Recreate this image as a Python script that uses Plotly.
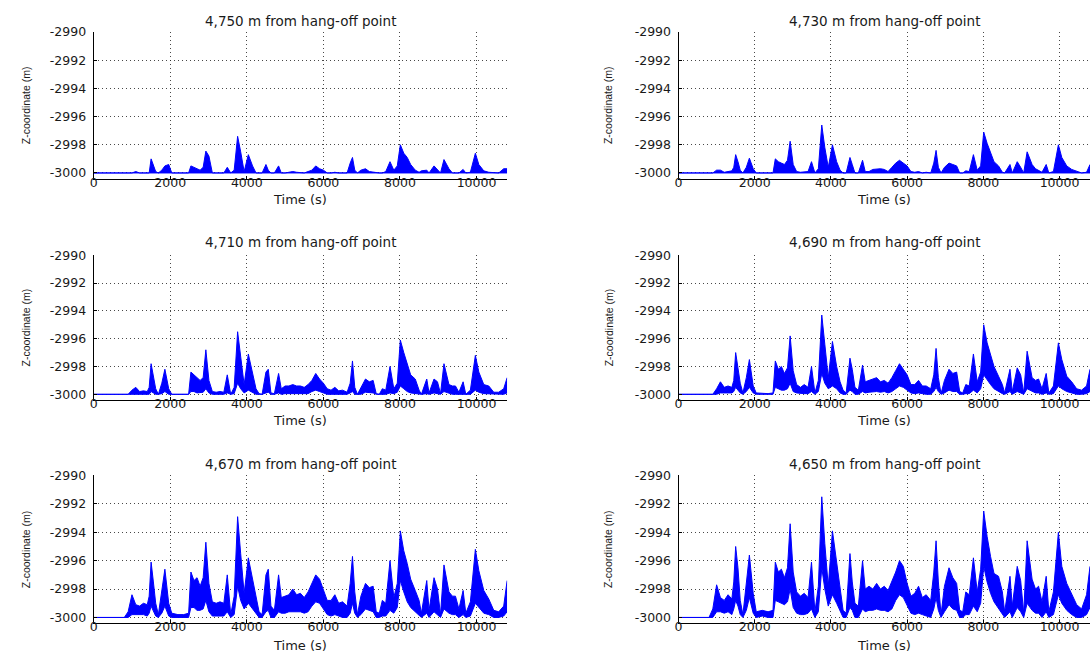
import plotly.graph_objects as go

# ---------------- data ----------------
time_s = [0, 800, 900, 1000, 1100, 1200, 1300, 1400, 1450, 1500,
          1560, 1620, 1690, 1780, 1860, 1960, 2040, 2200, 2350, 2480,
          2540, 2620, 2700, 2780, 2860, 2930, 3010, 3100, 3200, 3300,
          3400, 3490, 3580, 3670, 3760, 3840, 3930, 4040, 4150, 4240,
          4320, 4400, 4500, 4560, 4630, 4720, 4830, 4900, 5000, 5100,
          5200, 5300, 5400, 5500, 5600, 5700, 5800, 5900, 6000, 6100,
          6200, 6300, 6400, 6500, 6620, 6700, 6760, 6820, 6890, 6980,
          7100, 7200, 7300, 7380, 7460, 7540, 7630, 7740, 7840, 7930,
          8010, 8100, 8190, 8280, 8400, 8500, 8560, 8700, 8760, 8890,
          8980, 9060, 9150, 9280, 9370, 9450, 9540, 9650, 9720, 9840,
          9970, 10060, 10190, 10320, 10450, 10580, 10710, 10800]

seabed_z = -3000.0
time_span = [0, 10800]

# 4,750 m (upper envelope; lower envelope is the seabed)
z4750_up = [-3000, -3000, -3000, -3000, -2999.9, -3000, -3000, -3000, -3000, -2999.0,
            -2999.5, -2999.9, -3000, -2999.8, -2999.5, -2999.4, -3000, -3000, -3000, -3000,
            -2999.5, -2999.6, -2999.7, -2999.8, -2999.6, -2998.45, -2998.8, -3000, -3000, -3000,
            -3000, -2999.6, -3000, -2999.8, -2997.4, -2998.5, -2999.9, -2998.7, -2999.5, -3000,
            -3000, -3000, -2999.4, -2999.8, -3000, -3000, -2999.5, -3000, -3000, -2999.95,
            -2999.9, -2999.95, -3000, -3000, -2999.9, -2999.8, -2999.5, -2999.7, -2999.8, -3000,
            -3000, -2999.95, -3000, -3000, -3000, -2999.3, -2998.9, -2999.8, -3000, -2999.8,
            -2999.7, -2999.9, -2999.95, -3000, -3000, -3000, -2999.9, -2999.2, -2999.8, -2999.5,
            -2998.0, -2998.6, -2998.9, -2999.4, -2999.8, -2999.95, -2999.85, -2999.8, -3000, -2999.5,
            -2999.8, -3000, -2999.05, -2999.7, -3000, -3000, -3000, -2999.75, -3000, -2999.95,
            -2998.6, -2999.4, -2999.85, -2999.95, -3000, -3000, -2999.7, -2999.7]

# 4,730 m (upper envelope; lower envelope is the seabed)
z4730_up = [-3000, -3000, -3000, -2999.8, -2999.8, -2999.95, -2999.9, -2999.85, -2999.6, -2998.7,
            -2999.2, -2999.8, -3000, -2999.6, -2998.95, -2999.7, -3000, -3000, -3000, -3000,
            -2999.0, -2999.2, -2999.3, -2999.4, -2999.1, -2997.75, -2999.4, -2999.9, -2999.95, -2999.95,
            -2999.9, -2999.2, -3000, -2999.7, -2996.6, -2998.2, -2999.6, -2998.0, -2999.2, -2999.8,
            -3000, -3000, -2998.9, -2999.4, -3000, -3000, -2999.1, -2999.9, -2999.9, -2999.75,
            -2999.7, -2999.7, -2999.75, -2999.9, -2999.6, -2999.3, -2999.1, -2999.3, -2999.5, -2999.9,
            -2999.95, -2999.9, -3000, -2999.95, -3000, -2999.3, -2998.4, -2999.6, -3000, -2999.6,
            -2999.3, -2999.4, -2999.5, -3000, -3000, -2999.85, -2999.9, -2998.7, -2999.8, -2999.5,
            -2997.1, -2997.9, -2998.5, -2999.2, -2999.5, -2999.95, -3000, -2999.4, -3000, -2999.2,
            -2999.6, -3000, -2998.5, -2999.4, -2999.7, -2999.8, -2999.95, -2999.4, -3000, -2999.9,
            -2998.0, -2998.9, -2999.5, -2999.75, -2999.9, -3000, -2999.95, -2999.4]

# 4,710 m
z4710_up = [-3000, -3000, -3000, -2999.7, -2999.5, -2999.8, -2999.75, -2999.8, -2999.5, -2997.8,
            -2998.6, -2999.6, -3000, -2999.2, -2998.2, -2999.6, -3000, -3000, -3000, -3000,
            -2998.4, -2998.6, -2998.8, -2999.0, -2998.8, -2996.8, -2999.0, -2999.8, -2999.85, -2999.8,
            -2999.85, -2998.6, -3000, -2999.5, -2995.5, -2997.5, -2999.3, -2997.1, -2998.6, -2999.6,
            -2999.95, -3000, -2998.4, -2998.2, -2999.9, -2999.95, -2998.5, -2999.6, -2999.4, -2999.4,
            -2999.3, -2999.4, -2999.4, -2999.5, -2999.3, -2999.0, -2998.5, -2998.9, -2999.2, -2999.6,
            -2999.7, -2999.5, -2999.75, -2999.7, -2999.85, -2999.2, -2997.6, -2999.5, -3000, -2999.5,
            -2998.9, -2999.1, -2999.0, -2999.95, -3000, -2999.6, -2999.7, -2998.0, -2999.6, -2999.2,
            -2996.1, -2997.0, -2997.9, -2998.6, -2998.9, -2999.7, -3000, -2998.9, -2999.9, -2998.9,
            -2999.1, -2999.95, -2997.8, -2999.3, -2999.4, -2999.4, -2999.85, -2999.1, -3000, -2999.7,
            -2997.2, -2998.4, -2999.3, -2999.4, -2999.85, -2999.85, -2999.6, -2998.8]
z4710_lo = [-3000, -3000, -3000, -3000, -3000, -3000, -3000, -3000, -3000, -2999.8,
            -2999.9, -3000, -3000, -2999.95, -2999.8, -3000, -3000, -3000, -3000, -3000,
            -2999.8, -2999.8, -2999.9, -2999.9, -2999.85, -2999.6, -2999.9, -3000, -3000, -3000,
            -3000, -2999.9, -3000, -2999.95, -2999.2, -2999.6, -2999.9, -2999.7, -2999.9, -3000,
            -3000, -3000, -2999.9, -2999.85, -3000, -3000, -2999.9, -3000, -2999.95, -2999.95,
            -2999.95, -2999.95, -2999.95, -3000, -2999.95, -2999.8, -2999.7, -2999.8, -2999.9, -3000,
            -3000, -3000, -3000, -3000, -3000, -2999.9, -2999.8, -3000, -3000, -3000,
            -2999.85, -2999.9, -2999.9, -3000, -3000, -3000, -3000, -2999.9, -2999.95, -2999.85,
            -2999.4, -2999.6, -2999.8, -2999.9, -2999.95, -3000, -3000, -2999.95, -3000, -2999.9,
            -2999.95, -3000, -2999.8, -2999.95, -3000, -3000, -3000, -3000, -3000, -3000,
            -2999.7, -2999.85, -2999.95, -2999.95, -3000, -3000, -3000, -2999.9]

# 4,690 m
z4690_up = [-3000, -3000, -3000, -2999.6, -2999.1, -2999.5, -2999.4, -2999.5, -2999.0, -2997.0,
            -2998.0, -2999.2, -2999.9, -2998.8, -2997.5, -2999.4, -2999.9, -2999.95, -2999.95, -2999.9,
            -2997.6, -2998.2, -2998.0, -2998.5, -2998.1, -2995.8, -2998.3, -2999.3, -2999.5, -2999.3,
            -2999.5, -2998.0, -2999.9, -2999.0, -2994.3, -2996.4, -2998.8, -2996.2, -2998.0, -2999.1,
            -2999.7, -2999.9, -2997.4, -2998.2, -2999.5, -2999.7, -2997.9, -2999.1, -2999.0, -2998.9,
            -2998.8, -2999.1, -2999.0, -2999.2, -2998.8, -2998.3, -2997.8, -2998.2, -2998.6, -2999.3,
            -2999.3, -2999.0, -2999.4, -2999.4, -2999.6, -2998.6, -2996.7, -2998.8, -2999.95, -2999.0,
            -2998.2, -2998.5, -2998.4, -2999.8, -2999.9, -2999.3, -2999.4, -2997.1, -2999.1, -2998.4,
            -2995.0, -2996.3, -2997.1, -2998.0, -2998.7, -2999.3, -2999.9, -2998.2, -2999.8, -2998.1,
            -2998.6, -2999.9, -2996.9, -2998.8, -2999.0, -2998.9, -2999.6, -2998.5, -2999.9, -2999.4,
            -2996.3, -2997.5, -2998.7, -2999.1, -2999.6, -2999.7, -2999.4, -2998.2]
z4690_lo = [-3000, -3000, -3000, -3000, -2999.9, -2999.9, -2999.9, -2999.9, -2999.8, -2999.5,
            -2999.7, -2999.9, -3000, -2999.8, -2999.5, -2999.9, -3000, -3000, -3000, -3000,
            -2999.5, -2999.6, -2999.7, -2999.7, -2999.6, -2999.2, -2999.8, -2999.9, -2999.95, -2999.95,
            -2999.95, -2999.8, -3000, -2999.8, -2998.5, -2999.2, -2999.6, -2999.4, -2999.6, -2999.9,
            -3000, -3000, -2999.7, -2999.8, -3000, -3000, -2999.8, -2999.9, -2999.85, -2999.8,
            -2999.8, -2999.85, -2999.8, -2999.9, -2999.8, -2999.6, -2999.4, -2999.5, -2999.7, -2999.9,
            -2999.95, -2999.9, -2999.95, -3000, -3000, -2999.8, -2999.5, -2999.8, -3000, -2999.9,
            -2999.7, -2999.8, -2999.8, -3000, -3000, -2999.95, -2999.95, -2999.7, -2999.9, -2999.6,
            -2998.6, -2999.0, -2999.3, -2999.6, -2999.8, -2999.95, -3000, -2999.8, -3000, -2999.8,
            -2999.9, -3000, -2999.6, -2999.8, -2999.9, -2999.9, -3000, -2999.9, -3000, -2999.95,
            -2999.4, -2999.6, -2999.8, -2999.9, -3000, -3000, -2999.95, -2999.8]

# 4,670 m
z4670_up = [-3000, -3000, -2999.6, -2998.4, -2999.1, -2999.2, -2999.0, -2999.1, -2998.5, -2996.1,
            -2997.5, -2999.0, -2999.8, -2998.0, -2996.6, -2999.0, -2999.7, -2999.8, -2999.8, -2999.7,
            -2996.8, -2997.4, -2997.2, -2997.8, -2997.2, -2994.7, -2997.6, -2998.9, -2999.0, -2998.9,
            -2999.0, -2997.0, -2999.8, -2998.5, -2992.9, -2995.5, -2998.3, -2995.8, -2997.3, -2998.7,
            -2999.6, -2999.8, -2997.0, -2996.6, -2999.2, -2999.5, -2997.0, -2998.6, -2998.5, -2998.4,
            -2998.0, -2998.4, -2998.3, -2998.6, -2998.2, -2997.6, -2997.0, -2997.3, -2998.0, -2998.8,
            -2998.8, -2998.4, -2999.0, -2998.9, -2999.2, -2997.6, -2995.7, -2998.2, -2999.8, -2998.5,
            -2997.6, -2997.9, -2997.8, -2999.6, -2999.7, -2998.8, -2999.0, -2996.0, -2998.6, -2997.6,
            -2993.9, -2995.3, -2996.2, -2997.3, -2998.1, -2998.8, -2999.7, -2997.4, -2999.5, -2997.2,
            -2998.0, -2999.8, -2996.3, -2998.2, -2998.5, -2998.5, -2999.4, -2998.1, -2999.7, -2998.9,
            -2995.2, -2996.7, -2998.1, -2998.7, -2999.5, -2999.6, -2999.2, -2997.4]
z4670_lo = [-3000, -3000, -3000, -2999.8, -2999.8, -2999.8, -2999.8, -2999.9, -2999.7, -2999.2,
            -2999.5, -2999.9, -3000, -2999.7, -2999.2, -2999.9, -3000, -3000, -3000, -3000,
            -2999.3, -2999.3, -2999.5, -2999.5, -2999.4, -2998.8, -2999.6, -2999.9, -2999.9, -2999.9,
            -2999.9, -2999.6, -3000, -2999.8, -2997.8, -2998.8, -2999.4, -2999.0, -2999.4, -2999.7,
            -3000, -3000, -2999.6, -2999.5, -3000, -3000, -2999.6, -2999.7, -2999.7, -2999.6,
            -2999.6, -2999.6, -2999.6, -2999.7, -2999.6, -2999.2, -2998.9, -2999.0, -2999.4, -2999.8,
            -2999.9, -2999.8, -2999.9, -3000, -3000, -2999.7, -2999.0, -2999.7, -3000, -2999.8,
            -2999.4, -2999.5, -2999.6, -3000, -3000, -2999.9, -2999.9, -2999.5, -2999.7, -2999.3,
            -2997.4, -2998.2, -2998.9, -2999.3, -2999.6, -2999.9, -3000, -2999.7, -3000, -2999.6,
            -2999.8, -3000, -2999.4, -2999.7, -2999.8, -2999.8, -3000, -2999.8, -3000, -2999.9,
            -2999.0, -2999.3, -2999.7, -2999.8, -3000, -3000, -2999.9, -2999.6]

# 4,650 m
z4650_up = [-3000, -3000, -2999.4, -2997.7, -2998.6, -2998.8, -2998.4, -2998.7, -2997.5, -2995.0,
            -2996.5, -2998.8, -2999.8, -2997.3, -2995.6, -2998.3, -2999.6, -2999.5, -2999.6, -2999.5,
            -2996.1, -2996.8, -2996.6, -2997.2, -2996.5, -2993.4, -2996.8, -2998.2, -2998.5, -2998.3,
            -2998.6, -2996.1, -2999.6, -2997.8, -2991.5, -2994.8, -2997.8, -2993.9, -2996.0, -2997.8,
            -2999.5, -2999.7, -2995.5, -2997.5, -2999.0, -2999.2, -2996.0, -2998.0, -2997.8, -2998.0,
            -2997.6, -2998.0, -2997.8, -2998.1, -2997.5, -2996.8, -2996.0, -2996.4, -2997.6, -2998.5,
            -2998.3, -2997.8, -2998.6, -2998.4, -2998.8, -2996.8, -2994.6, -2997.5, -2999.8, -2997.8,
            -2996.5, -2997.2, -2997.6, -2999.5, -2999.6, -2998.2, -2998.4, -2995.8, -2998.2, -2996.6,
            -2992.5, -2994.3, -2995.7, -2996.9, -2997.1, -2998.2, -2999.6, -2997.1, -2999.2, -2996.4,
            -2997.4, -2999.7, -2994.6, -2997.3, -2998.0, -2997.8, -2998.9, -2997.1, -2999.6, -2998.2,
            -2994.0, -2996.4, -2997.6, -2998.4, -2999.1, -2999.4, -2998.4, -2996.4]
z4650_lo = [-3000, -3000, -3000, -2999.6, -2999.6, -2999.7, -2999.6, -2999.8, -2999.4, -2998.8,
            -2999.2, -2999.8, -3000, -2999.5, -2998.6, -2999.7, -3000, -2999.9, -3000, -3000,
            -2998.8, -2998.9, -2999.0, -2999.1, -2998.9, -2998.0, -2999.3, -2999.7, -2999.8, -2999.8,
            -2999.7, -2999.4, -3000, -2999.6, -2996.5, -2998.0, -2999.2, -2998.4, -2999.0, -2999.5,
            -3000, -3000, -2999.3, -2999.5, -3000, -3000, -2999.4, -2999.6, -2999.5, -2999.5,
            -2999.4, -2999.5, -2999.5, -2999.6, -2999.4, -2998.8, -2998.4, -2998.6, -2999.2, -2999.7,
            -2999.8, -2999.7, -2999.8, -2999.9, -3000, -2999.4, -2998.6, -2999.5, -3000, -2999.6,
            -2999.1, -2999.4, -2999.5, -3000, -3000, -2999.8, -2999.8, -2999.2, -2999.6, -2999.0,
            -2996.4, -2997.5, -2998.3, -2998.9, -2999.4, -2999.8, -3000, -2999.6, -3000, -2999.3,
            -2999.6, -3000, -2999.0, -2999.5, -2999.7, -2999.7, -3000, -2999.6, -3000, -2999.8,
            -2998.4, -2999.0, -2999.5, -2999.8, -3000, -3000, -2999.8, -2999.3]

panel_titles = ["4,750 m from hang-off point", "4,730 m from hang-off point",
                "4,710 m from hang-off point", "4,690 m from hang-off point",
                "4,670 m from hang-off point", "4,650 m from hang-off point"]
x_ticks = [0, 2000, 4000, 6000, 8000, 10000]
x_tick_labels = ["0", "2000", "4000", "6000", "8000", "10000"]
y_ticks = [-3000, -2998, -2996, -2994, -2992, -2990]
y_tick_labels = ["-3000", "-2998", "-2996", "-2994", "-2992", "-2990"]
x_title = "Time (s)"
y_title = "Z-coordinate (m)"

panels = [(z4750_up, None), (z4730_up, None), (z4710_up, z4710_lo),
          (z4690_up, z4690_lo), (z4670_up, z4670_lo), (z4650_up, z4650_lo)]
for up, lo in panels:
    assert len(up) == len(time_s)
    if lo is not None:
        assert len(lo) == len(time_s)

# ---------------- layout geometry (pixels of a 1091 x 658 canvas) ----------------
W, H = 1091, 658
col_px = [(90, 505), (677, 1090)]
row_px = [(25, 174), (251, 398), (474, 624)]
title_y_px = [14, 238, 463]
xlab_y_px = [195, 419, 646]
ylab_x_px = [22, 607]

BLUE = "rgb(0,0,255)"
TEXT_COLOR = "#1a1a1a"
TICK_FONT = dict(family="DejaVu Sans, Liberation Sans, Arial", size=12.5, color=TEXT_COLOR)

fig = go.Figure()
layout = dict(
    width=W, height=H, margin=dict(l=0, r=0, t=0, b=0),
    paper_bgcolor="white", plot_bgcolor="white", showlegend=False,
    annotations=[],
)

for k, (up, lo) in enumerate(panels):
    r, c = divmod(k, 2)
    ax_suffix = "" if k == 0 else str(k + 1)
    xa, ya = "x" + ax_suffix, "y" + ax_suffix
    if lo is None:
        fig.add_trace(go.Scatter(x=time_span, y=[seabed_z, seabed_z], xaxis=xa, yaxis=ya,
                                 mode="lines", line=dict(color=BLUE, width=1), hoverinfo="skip"))
    else:
        fig.add_trace(go.Scatter(x=time_s, y=lo, xaxis=xa, yaxis=ya, mode="lines",
                                 line=dict(color=BLUE, width=1), hoverinfo="skip"))
    fig.add_trace(go.Scatter(x=time_s, y=up, xaxis=xa, yaxis=ya, mode="lines",
                             line=dict(color=BLUE, width=1), fill="tonexty",
                             fillcolor=BLUE, hoverinfo="skip"))

    x0, x1 = col_px[c]
    yt, yb = row_px[r]
    xd = [x0 / W, x1 / W]
    yd = [1 - yb / H, 1 - yt / H]
    common = dict(showgrid=True, gridcolor="rgba(40,40,40,0.85)", gridwidth=1,
                  griddash="1px,3px", zeroline=False, showline=True, linecolor="black",
                  linewidth=1, ticks="inside", ticklen=3, tickcolor="black",
                  tickfont=TICK_FONT, mirror=False)
    layout["xaxis" + ax_suffix] = dict(domain=xd, anchor=ya, range=[0, 10800],
                                       tickvals=x_ticks, ticktext=x_tick_labels,
                                       ticklabelstandoff=-8, **common)
    layout["yaxis" + ax_suffix] = dict(domain=yd, anchor=xa, range=[-3000.42, -2989.98],
                                       tickvals=y_ticks, ticktext=y_tick_labels,
                                       ticklabelstandoff=4, **common)
    xc = (x0 + x1) / 2 / W
    layout["annotations"].append(dict(
        text=panel_titles[k], x=xc, y=1 - title_y_px[r] / H, xref="paper", yref="paper",
        xanchor="center", yanchor="middle", showarrow=False,
        font=dict(family="DejaVu Sans, Liberation Sans, Arial", size=13.5, color=TEXT_COLOR)))
    layout["annotations"].append(dict(
        text=x_title, x=xc, y=1 - xlab_y_px[r] / H, xref="paper", yref="paper",
        xanchor="center", yanchor="middle", showarrow=False,
        font=dict(family="DejaVu Sans, Liberation Sans, Arial", size=13, color=TEXT_COLOR)))
    layout["annotations"].append(dict(
        text=y_title, x=ylab_x_px[c] / W, y=1 - (yt + yb) / 2 / H, xref="paper", yref="paper",
        xanchor="center", yanchor="middle", showarrow=False, textangle=-90,
        font=dict(family="Liberation Sans, Arial", size=10.5, color=TEXT_COLOR)))

fig.update_layout(**layout)
fig.write_html("out.html")
